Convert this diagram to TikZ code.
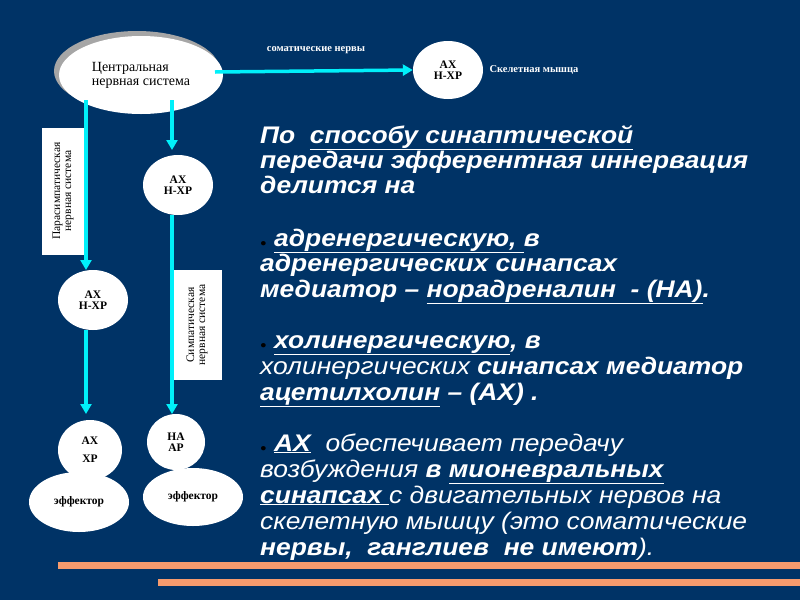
\documentclass[tikz,border=0pt]{standalone}
\usepackage{fontspec}
\setmainfont{Liberation Serif}
\newfontfamily\arialf[FakeStretch=1.1]{Liberation Sans}
\usetikzlibrary{arrows.meta}
\definecolor{bg}{RGB}{0,51,102}
\definecolor{cy}{RGB}{0,240,250}
\definecolor{org}{RGB}{245,155,110}
\tikzset{
 ell/.style={ellipse,fill=white,inner sep=0pt,font=\bfseries\fontsize{11.5}{11}\selectfont,align=center},
 arr/.style={draw=cy,line width=3.5pt,-{Triangle[width=11pt,length=10pt]}},
 lbl/.style={fill=white,rotate=90,font=\fontsize{11.5}{11}\selectfont,align=center,inner sep=2pt},
 tl/.style={anchor=base west,inner sep=0pt,text=white,font=\arialf\itshape\fontsize{24}{24}\selectfont},
}
\usetikzlibrary{shapes.geometric}
\begin{document}
\begin{tikzpicture}[x=1pt,y=-1pt]
\fill[bg] (0,0) rectangle (800,600);
\useasboundingbox (0,0) rectangle (800,600);
% CNS
\fill[gray!70] (137,71) ellipse [x radius=83,y radius=40];
\node[ell,minimum width=164pt,minimum height=78pt,font=\fontsize{14}{14}\selectfont,align=left] (cns) at (141,75) {Центральная\\нервная система};
\node[ell,minimum width=70pt,minimum height=58pt] (ax1) at (448,70) {АХ\\Н-ХР};
\node[font=\bfseries\fontsize{10.5}{10}\selectfont,text=white] (som) at (316,50) {соматические нервы};
\node[font=\bfseries\fontsize{10.5}{10}\selectfont,text=white,anchor=west] (sk) at (486,70) {Скелетная мышца};
\draw[arr] (215,72) -- (ax1.west);
% left branch
\node[lbl,minimum width=127pt,minimum height=42pt] (pbox) at (63,191) {Парасимпатическая\\нервная система};
\node[ell,minimum width=70pt,minimum height=60pt] (ax2) at (93,300) {АХ\\Н-ХР};
\node[ell,minimum width=64pt,minimum height=60pt,font=\bfseries\fontsize{11.5}{18}\selectfont] (ax3) at (90,450) {АХ\\ХР};
\node[ell,minimum width=100pt,minimum height=60pt] (ef1) at (79,502) {эффектор};
\coordinate (p1) at (86,100);
\draw[arr] (p1) -- (86,270);
\draw[arr] (86,330) -- (86,414);
% middle branch
\node[ell,minimum width=70pt,minimum height=60pt] (ax4) at (178,185) {АХ\\Н-ХР};
\node[lbl,minimum width=110pt,minimum height=50pt] (sbox) at (197,325) {Симпатическая\\нервная система};
\node[ell,minimum width=58pt,minimum height=56pt] (na) at (176,442) {НА\\АР};
\node[ell,minimum width=100pt,minimum height=58pt] (ef2) at (193,497) {эффектор};
\draw[arr] (172,100) -- (172,150);
\draw[arr] (172,215) -- (172,414);
% orange bars
\fill[org] (58,562) rectangle (800,569);
\fill[org] (158,579) rectangle (800,586);
% text
\newcommand\bi[1]{\textbf{#1}}
\newcommand\bul{{\color{black}\fontsize{10}{10}\selectfont●}}
\node[tl] (t1) at (260,143) {\bi{По \ \underline{способу синаптической}}};
\node[tl] (t2) at (260,168) {\bi{передачи эфферентная иннервация}};
\node[tl] (t3) at (260,193) {\bi{делится на}};
\node[tl] (t4) at (260,246) {\bul\ \bi{\underline{адренергическую, }в}};
\node[tl] (t5) at (260,271) {\bi{адренергических синапсах}};
\node[tl] (t6) at (260,297) {\bi{медиатор – \underline{норадреналин \ - (НА)}.}};
\node[tl] (t7) at (260,348) {\bul\ \bi{\underline{холинергическую}, в}};
\node[tl] (t8) at (260,374) {холинергических \bi{синапсах медиатор}};
\node[tl] (t9) at (260,400) {\bi{\underline{ацетилхолин} – (АХ) .}};
\node[tl] (t10) at (260,451) {\bul\ \bi{\underline{АХ}} \ обеспечивает передачу};
\node[tl] (t11) at (260,477) {возбуждения \bi{в \underline{мионевральных}}};
\node[tl] (t12) at (260,503) {\bi{\underline{синапсах }}с двигательных нервов на};
\node[tl] (t13) at (260,529) {скелетную мышцу (это соматические};
\node[tl] (t14) at (260,555) {\bi{нервы, \ ганглиев \ не имеют}).};
\end{tikzpicture}
\end{document}
